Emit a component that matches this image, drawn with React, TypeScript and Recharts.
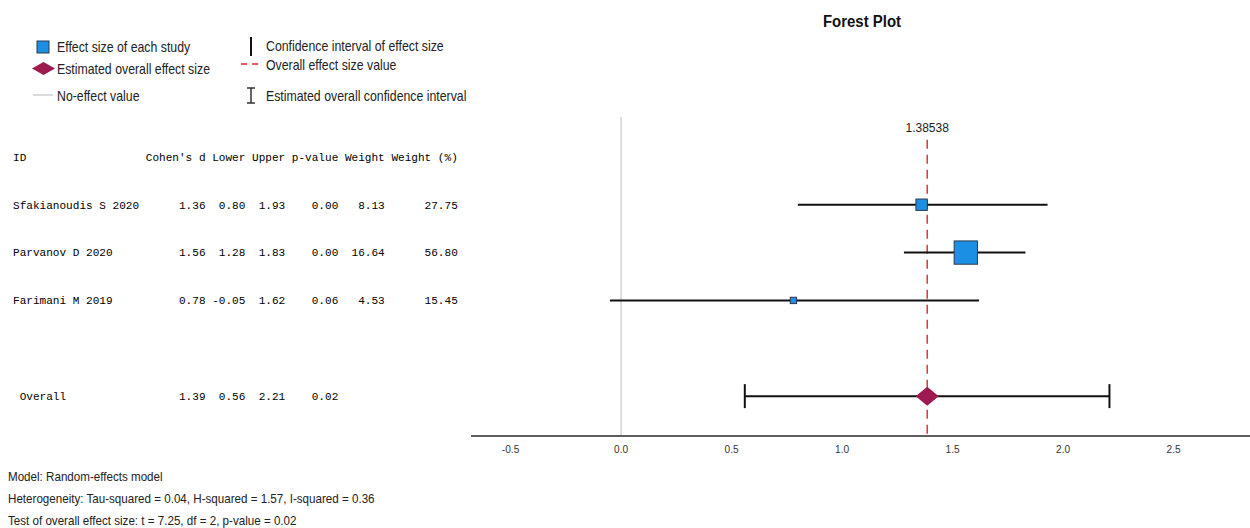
import React from 'react';
import { ScatterChart, Scatter, XAxis, YAxis, ErrorBar, ReferenceLine } from 'recharts';

// study level values
const studies = ['Sfakianoudis S 2020', 'Parvanov D 2020', 'Farimani M 2019'];
const cohensD = [1.36, 1.56, 0.78];
const lowerCI = [0.8, 1.28, -0.05];
const upperCI = [1.93, 1.83, 1.62];
const pValues = [0.0, 0.0, 0.06];
const weights = [8.13, 16.64, 4.53];
const weightPct = [27.75, 56.8, 15.45];

// overall (random effects) estimate
const overallLabel = 'Overall';
const overallD = 1.38538;
const overallLower = 0.56;
const overallUpper = 2.21;
const overallP = 0.02;

const tableHeaders = ['ID', "Cohen's d", 'Lower', 'Upper', 'p-value', 'Weight', 'Weight (%)'];
const xTicks = [-0.5, 0, 0.5, 1, 1.5, 2, 2.5];

const footerLines = [
  'Model: Random-effects model',
  'Heterogeneity: Tau-squared = 0.04, H-squared = 1.57, I-squared = 0.36',
  'Test of overall effect size: t = 7.25, df = 2, p-value = 0.02',
];

const BLUE = '#1b8fe4';
const MAROON = '#9c1a4f';
const RED = '#e3262b';
const SANS = "'Liberation Sans', Arial, sans-serif";
const MONO = "'Liberation Mono', 'Courier New', monospace";

const colWidths = [9, 5, 5, 7, 6, 10];
const fmtRow = (id: string, cells: string[]) =>
  id.padEnd(20) + cells.map((c, i) => c.padStart(colWidths[i])).join(' ');

const overallRow = studies.length + 2;

const studyData = studies.map((name, i) => ({
  name,
  row: i + 1,
  d: cohensD[i],
  wp: weightPct[i],
  ci: [cohensD[i] - lowerCI[i], upperCI[i] - cohensD[i]],
}));

const overallData = [
  {
    name: overallLabel,
    row: overallRow,
    d: overallD,
    ci: [overallD - overallLower, overallUpper - overallD],
  },
];

const tableLines: Record<number, string> = {
  0: fmtRow(tableHeaders[0], tableHeaders.slice(1)),
  [overallRow]: fmtRow(' ' + overallLabel, [
    overallD.toFixed(2),
    overallLower.toFixed(2),
    overallUpper.toFixed(2),
    overallP.toFixed(2),
    '',
    '',
  ]),
};
studies.forEach((name, i) => {
  tableLines[i + 1] = fmtRow(name, [
    cohensD[i].toFixed(2),
    lowerCI[i].toFixed(2),
    upperCI[i].toFixed(2),
    pValues[i].toFixed(2),
    weights[i].toFixed(2),
    weightPct[i].toFixed(2),
  ]);
});

// condensed sans text (the original uses a narrow Arial)
function CText({ x, y, size, children, anchor = 'start', weight = 'normal', scale = 0.88, fill = '#222' }: any) {
  return (
    <text
      transform={`translate(${x},${y}) scale(${scale},1)`}
      textAnchor={anchor}
      dominantBaseline="central"
      fontFamily={SANS}
      fontSize={size}
      fontWeight={weight}
      fill={fill}
    >
      {children}
    </text>
  );
}

const SquareShape = (props: any) => {
  const { cx, cy, payload } = props;
  const s = payload.wp * 0.41;
  return <rect x={cx - s / 2} y={cy - s / 2} width={s} height={s} fill={BLUE} stroke="#2b3b4e" strokeWidth={1} />;
};

const DiamondShape = (props: any) => {
  const { cx, cy } = props;
  return (
    <polygon
      points={`${cx - 11.5},${cy} ${cx},${cy - 9.5} ${cx + 11.5},${cy} ${cx},${cy + 9.5}`}
      fill={MAROON}
    />
  );
};

const NoShape = () => <g />;

const TableTick = (props: any) => {
  const { y, payload } = props;
  return (
    <text x={13} y={y} dy="0.35em" fontFamily={MONO} fontSize={11.07} fill="#000" xmlSpace="preserve" style={{ whiteSpace: 'pre' }}>
      {tableLines[payload.value]}
    </text>
  );
};

const XTick = (props: any) => {
  const { x, y, payload } = props;
  return (
    <CText x={x} y={y + 5} size={11.5} anchor="middle" fill="#333">
      {payload.value.toFixed(1)}
    </CText>
  );
};

function Overlay() {
  return (
    <svg width={1250} height={528} style={{ position: 'absolute', left: 0, top: 0, pointerEvents: 'none' }}>
      <CText x={862} y={21} size={17} weight="bold" anchor="middle" fill="#111">
        Forest Plot
      </CText>

      {/* legend */}
      <rect x={37} y={41} width={12} height={12} fill={BLUE} stroke="#2b3b4e" strokeWidth={1} />
      <polygon points="32,68.5 43.5,62 55,68.5 43.5,75" fill={MAROON} />
      <line x1={33} x2={53} y1={95} y2={95} stroke="#cfcfcf" strokeWidth={1.5} />
      <CText x={57} y={47} size={14}>Effect size of each study</CText>
      <CText x={57} y={69} size={14}>Estimated overall effect size</CText>
      <CText x={57} y={96} size={14}>No-effect value</CText>

      <line x1={251} x2={251} y1={37} y2={56} stroke="#111" strokeWidth={2} />
      <line x1={241} x2={259} y1={64} y2={64} stroke={RED} strokeWidth={1.3} strokeDasharray="6 5" />
      <line x1={251} x2={251} y1={88} y2={103} stroke="#333" strokeWidth={1.5} />
      <line x1={247} x2={255} y1={88} y2={88} stroke="#333" strokeWidth={1.5} />
      <line x1={247} x2={255} y1={103} y2={103} stroke="#333" strokeWidth={1.5} />
      <CText x={266} y={46} size={14}>Confidence interval of effect size</CText>
      <CText x={266} y={65} size={14}>Overall effect size value</CText>
      <CText x={266} y={96} size={14}>Estimated overall confidence interval</CText>

      {footerLines.map((t, i) => (
        <CText key={i} x={8} y={477 + i * 22} size={13.2}>
          {t}
        </CText>
      ))}
    </svg>
  );
}

export default function App() {
  return (
    <div style={{ position: 'absolute', left: 0, top: 0, width: 1250, height: 528, background: '#fff' }}>
      <ScatterChart width={1250} height={528} margin={{ top: 117, right: 0, bottom: 62, left: 0 }}>
        <XAxis
          type="number"
          dataKey="d"
          domain={[-0.679, 2.846]}
          ticks={xTicks}
          allowDataOverflow
          axisLine={{ stroke: '#5e5e5e', strokeWidth: 2 }}
          tickLine={false}
          tick={<XTick />}
          height={30}
        />
        <YAxis
          type="number"
          dataKey="row"
          domain={[-0.833, 5.833]}
          reversed
          allowDataOverflow
          ticks={[0, 1, 2, 3, overallRow]}
          interval={0}
          width={471}
          axisLine={false}
          tickLine={false}
          tick={<TableTick />}
        />
        <ReferenceLine x={0} stroke="#d2d2d2" strokeWidth={1.5} />
        <ReferenceLine
          segment={[
            { x: overallD, y: -0.36 },
            { x: overallD, y: 5.833 },
          ]}
          stroke={RED}
          strokeWidth={1.4}
          strokeDasharray="9 6"
          label={{ value: String(overallD), position: 'top', offset: 8, fill: '#222', fontSize: 12, fontFamily: SANS }}
        />
        <Scatter data={studyData} shape={SquareShape} isAnimationActive={false} />
        <Scatter data={studyData} shape={NoShape} isAnimationActive={false}>
          <ErrorBar dataKey="ci" direction="x" width={0} stroke="#111" strokeWidth={2} isAnimationActive={false} />
        </Scatter>
        <Scatter data={overallData} shape={NoShape} isAnimationActive={false}>
          <ErrorBar dataKey="ci" direction="x" width={12} stroke="#111" strokeWidth={2} isAnimationActive={false} />
        </Scatter>
        <Scatter data={overallData} shape={DiamondShape} isAnimationActive={false} />
      </ScatterChart>
      <Overlay />
    </div>
  );
}
